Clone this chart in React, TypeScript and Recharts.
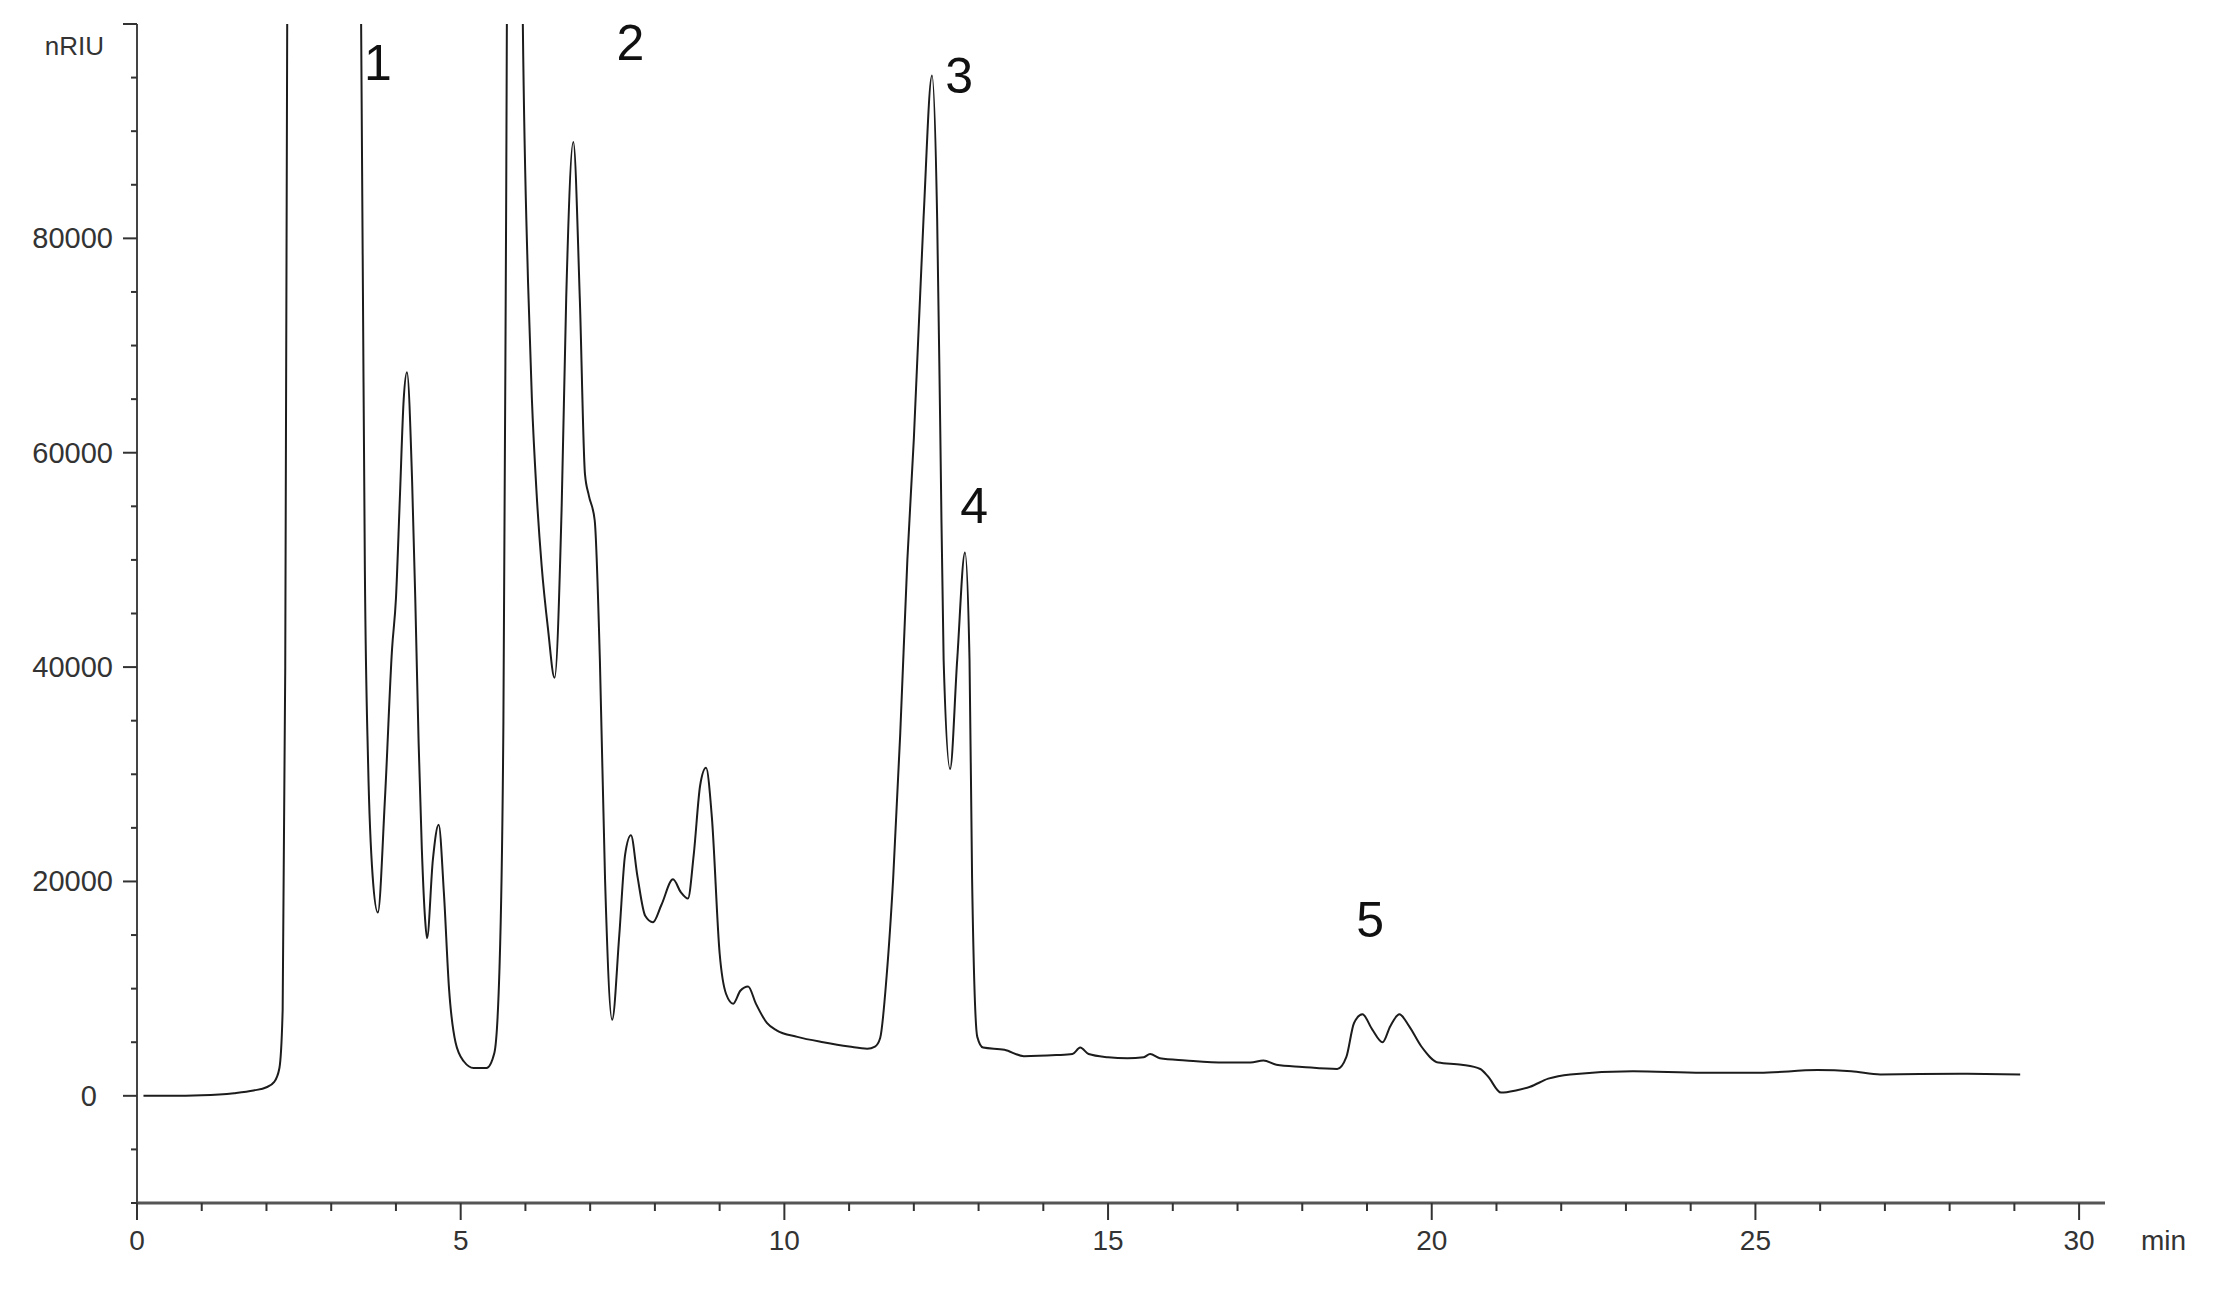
import React from "react";
import { LineChart, Line, XAxis, YAxis, ReferenceDot } from "recharts";

// retention time (min) and detector signal (nRIU)
const times = [
  0.1, 0.5, 1.0, 1.5, 1.8, 2.0, 2.12, 2.2, 2.25, 2.29, 2.33, 2.4, 3.35, 3.44, 3.49, 3.52, 3.57, 3.64, 3.72,
  3.83, 3.94, 4.0, 4.06, 4.12, 4.17, 4.25, 4.3, 4.35, 4.4, 4.45, 4.48, 4.57, 4.66, 4.74, 4.82, 4.92, 5.05,
  5.2, 5.4, 5.52, 5.6, 5.66, 5.7, 5.76, 5.88, 5.96, 6.04, 6.1, 6.17, 6.25, 6.35, 6.45, 6.56, 6.63, 6.74,
  6.84, 6.92, 6.98, 7.07, 7.15, 7.23, 7.34, 7.45, 7.54, 7.63, 7.73, 7.85, 7.97, 8.1, 8.28, 8.4, 8.51, 8.6,
  8.7, 8.79, 8.88, 9.0, 9.1, 9.21, 9.32, 9.44, 9.56, 9.73, 9.88, 10.2, 10.6, 11.0, 11.28, 11.4, 11.48,
  11.58, 11.68, 11.79, 11.9, 12.0, 12.15, 12.28, 12.36, 12.41, 12.46, 12.56, 12.67, 12.79, 12.86, 12.9,
  12.98, 13.07, 13.4, 13.7, 14.2, 14.45, 14.57, 14.7, 15.0, 15.3, 15.55, 15.65, 15.8, 16.2, 16.8, 17.2,
  17.4, 17.6, 18.0, 18.54, 18.68, 18.8, 18.93, 19.08, 19.24, 19.36, 19.5, 19.65, 19.84, 20.1, 20.46,
  20.75, 20.87, 21.07, 21.3, 21.52, 21.8, 22.14, 23.11, 24.18, 25.06, 25.96, 26.48, 26.93, 28.16, 29.09,
];
const nriu = [
  0, 0, 50, 250, 500, 800, 1300, 2600, 8000, 40000, 120000, 200000, 200000, 120000, 75000, 49000, 31000,
  20500, 17100, 27700, 41700, 46400, 55700, 65000, 67500, 57300, 46000, 33000, 23000, 16500, 14700, 22000,
  25300, 19000, 10000, 5000, 3200, 2600, 2600, 4000, 12000, 35000, 80000, 160000, 160000, 100000, 76000,
  65000, 56500, 49500, 43500, 39000, 55000, 74400, 89000, 74400, 58000, 56000, 53700, 40700, 20200, 7100,
  15000, 22500, 24300, 20500, 16800, 16200, 17800, 20200, 19000, 18400, 22500, 29000, 30600, 26000, 13300,
  9500, 8600, 9800, 10200, 8600, 6800, 6100, 5500, 5000, 4600, 4400, 4600, 5400, 11200, 20200, 33800,
  50000, 61300, 81900, 95200, 81900, 61300, 40700, 30500, 40700, 50700, 40700, 20200, 5500, 4500, 4300,
  3700, 3800, 3900, 4500, 3900, 3600, 3500, 3600, 3900, 3500, 3300, 3100, 3100, 3300, 2900, 2700, 2500,
  3600, 6800, 7600, 6200, 5000, 6500, 7600, 6500, 4600, 3100, 2900, 2500, 1800, 300, 500, 850, 1600, 2000,
  2300, 2150, 2150, 2400, 2300, 2000, 2050, 2000,
];

const xTicks = Array.from({ length: 31 }, (_, i) => i);
const yTicks = [
  -10000, -5000, 0, 5000, 10000, 15000, 20000, 25000, 30000, 35000, 40000, 45000, 50000, 55000, 60000,
  65000, 70000, 75000, 80000, 85000, 90000, 95000, 100000,
];

// peak numbers and where they sit
const peakNames = ["1", "2", "3", "4", "5"];
const peakTimes = [3.72, 7.62, 12.7, 12.93, 19.05];
const peakLevels = [94800, 96600, 93600, 53400, 14800];

const data = times.map((t, i) => ({ t, v: nriu[i] }));
const FONT = "'Liberation Sans', Arial, sans-serif";

const XTick = (props: any) => {
  const { x, y, payload } = props;
  const major = payload.value % 5 === 0;
  return (
    <g>
      <line x1={x} x2={x} y1={y} y2={y + (major ? 17 : 8)} stroke="#333" strokeWidth={2} />
      {major && (
        <text x={x} y={y + 47} textAnchor="middle" fontSize={28} fill="#333" fontFamily={FONT}>
          {payload.value}
        </text>
      )}
    </g>
  );
};

const YTick = (props: any) => {
  const { x, y, payload } = props;
  const major = payload.value % 20000 === 0;
  const showLabel = major && payload.value < 100000;
  return (
    <g>
      <line x1={x - (major ? 14 : 6)} x2={x} y1={y} y2={y} stroke="#333" strokeWidth={2} />
      {showLabel && (
        <text
          x={payload.value === 0 ? x - 40 : x - 24}
          y={y + 10}
          textAnchor="end"
          fontSize={29}
          fill="#333"
          fontFamily={FONT}
        >
          {payload.value}
        </text>
      )}
    </g>
  );
};

const PeakLabel = (name: string) => (props: any) => (
  <text x={props.cx} y={props.cy} textAnchor="middle" fontSize={50} fill="#111" fontFamily={FONT}>
    {name}
  </text>
);

export default function App() {
  return (
    <div style={{ position: "absolute", left: 0, top: 0, background: "#fff" }}>
      <LineChart width={2217} height={1293} data={data} margin={{ top: 24, right: 112, left: 0, bottom: 0 }}>
        <XAxis
          dataKey="t"
          type="number"
          domain={[0, 30.4]}
          ticks={xTicks}
          interval={0}
          height={90}
          tickSize={0}
          tickMargin={0}
          tickLine={false}
          axisLine={{ stroke: "#555", strokeWidth: 3 }}
          tick={<XTick />}
          label={{
            content: (p: any) => (
              <text
                x={p.viewBox.x + p.viewBox.width + 36}
                y={p.viewBox.y + 47}
                fontSize={28}
                fill="#333"
                fontFamily={FONT}
              >
                min
              </text>
            ),
          }}
        />
        <YAxis
          type="number"
          domain={[-10000, 100000]}
          allowDataOverflow
          ticks={yTicks}
          interval={0}
          width={137}
          tickSize={0}
          tickMargin={0}
          tickLine={false}
          axisLine={{ stroke: "#444", strokeWidth: 2 }}
          tick={<YTick />}
          label={{
            content: (p: any) => (
              <text
                x={p.viewBox.x + p.viewBox.width - 33}
                y={p.viewBox.y + 31}
                textAnchor="end"
                fontSize={26}
                fill="#333"
                fontFamily={FONT}
              >
                nRIU
              </text>
            ),
          }}
        />
        <Line
          type="monotone"
          dataKey="v"
          stroke="#1c1c1c"
          strokeWidth={2}
          dot={false}
          activeDot={false}
          isAnimationActive={false}
        />
        {peakNames.map((n, i) => (
          <ReferenceDot key={n} x={peakTimes[i]} y={peakLevels[i]} r={0} shape={PeakLabel(n)} />
        ))}
      </LineChart>
    </div>
  );
}
